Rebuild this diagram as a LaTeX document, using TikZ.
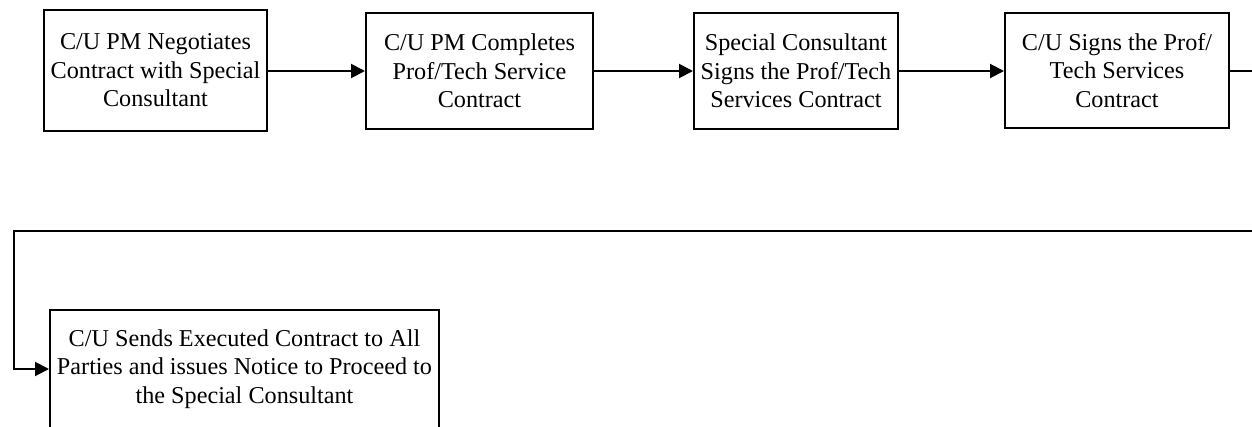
\documentclass[tikz,border=0pt]{standalone}
\usepackage{fontspec}
\setmainfont{Liberation Serif}
\usetikzlibrary{arrows.meta}

\tikzset{
  stepbox/.style={draw,line width=2pt,align=center,inner sep=0pt,
    font=\fontsize{24.2}{28.6}\selectfont},
  flow/.style={->,line width=2pt}
}

\begin{document}
\begin{tikzpicture}[x=1pt,y=-1pt,>={Triangle[length=14pt,width=14pt]}]
\useasboundingbox (0,0) rectangle (1252,426);
\clip (0,0) rectangle (1252,426);
\node[stepbox,minimum width=223pt,minimum height=121pt] (neg) at (155.5,70.5)
  {C/U PM Negotiates\\Contract with Special\\Consultant};
\node[stepbox,minimum width=227pt,minimum height=116pt] (comp) at (479.5,71)
  {C/U PM Completes\\Prof/Tech Service\\Contract};
\node[stepbox,minimum width=204pt,minimum height=116pt] (sc) at (796,71)
  {Special Consultant\\Signs the Prof/Tech\\Services Contract};
\node[stepbox,minimum width=224pt,minimum height=115pt] (cu) at (1117,70.5)
  {C/U Signs the Prof/\\Tech Services\\Contract};
\node[stepbox,minimum width=389pt,minimum height=118pt] (send) at (244.5,369)
  {C/U Sends Executed Contract to All\\Parties and issues Notice to Proceed to\\the Special Consultant};
%
\coordinate (rt) at (1262,70.5);
\coordinate (lt) at (14,231);
\draw[flow] (neg.east |- comp) -- (comp.west);
\draw[flow] (comp) -- (sc);
\draw[flow] (sc.east) -- (sc.east -| cu.west);
\draw[flow] (cu.east) -- (rt) |- (lt) |- (send.west);
\end{tikzpicture}
\end{document}
